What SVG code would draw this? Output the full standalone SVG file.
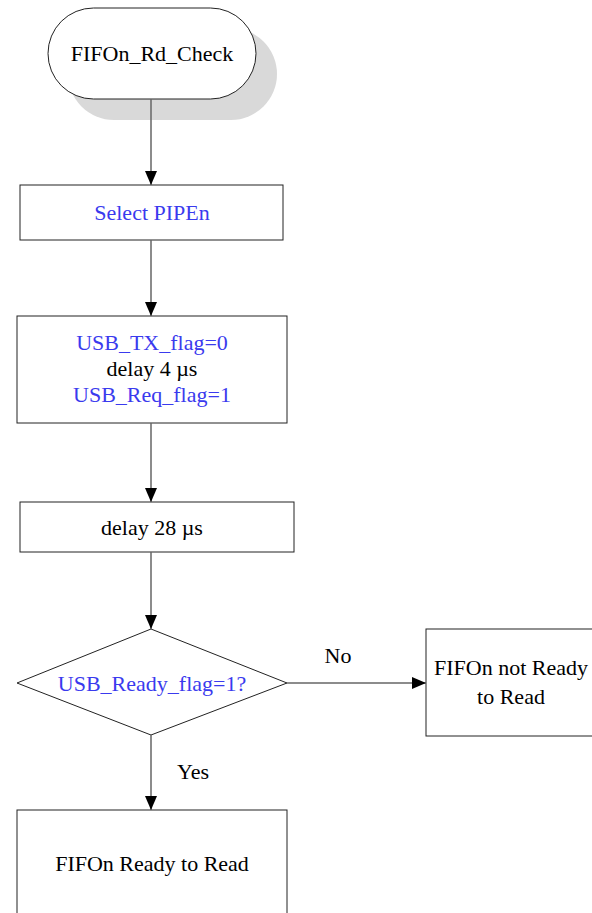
<svg xmlns="http://www.w3.org/2000/svg" width="592" height="913" viewBox="0 0 592 913">
<defs>
<marker id="arr" viewBox="0 0 14 12" refX="14" refY="6" markerWidth="14" markerHeight="12" markerUnits="userSpaceOnUse" orient="auto">
<path d="M0,0 L14,6 L0,12 Z" fill="#000"/>
</marker>
<style>
.box{fill:#fff;stroke:#222;stroke-width:1}
.t{font-family:"Liberation Serif","Times New Roman",serif;font-size:22px;fill:#000;text-anchor:middle}
.b{fill:#3a3aee}
.c{stroke:#666;stroke-width:1.5;fill:none;marker-end:url(#arr)}
</style>
</defs>
<g id="start">
<rect x="68" y="28" width="209" height="92" rx="46" fill="#d9d9d9"/>
<rect class="box" x="48" y="8" width="208" height="91" rx="45.5"/>
<text class="t" x="152" y="61">FIFOn_Rd_Check</text>
</g>
<g id="select">
<rect class="box" x="20" y="185" width="263" height="55"/>
<text class="t b" x="152" y="220">Select PIPEn</text>
</g>
<g id="flags">
<rect class="box" x="17" y="316" width="270" height="107"/>
<text class="t b" x="152" y="350">USB_TX_flag=0</text>
<text class="t" x="152" y="376">delay 4 µs</text>
<text class="t b" x="152" y="402">USB_Req_flag=1</text>
</g>
<g id="delay">
<rect class="box" x="20" y="502" width="274" height="50"/>
<text class="t" x="152" y="535">delay 28 µs</text>
</g>
<g id="decision">
<polygon class="box" points="151,629 287,683 151,735 17,683"/>
<text class="t b" x="152" y="691">USB_Ready_flag=1?</text>
</g>
<g id="notready">
<rect class="box" x="426" y="629" width="170" height="107"/>
<text class="t" x="511" y="675">FIFOn not Ready</text>
<text class="t" x="511" y="704">to Read</text>
</g>
<g id="ready">
<rect class="box" x="17" y="810" width="270" height="110"/>
<text class="t" x="152" y="871">FIFOn Ready to Read</text>
</g>
<g id="connectors">
<line class="c" x1="151" y1="99" x2="151" y2="185"/>
<line class="c" x1="151" y1="240" x2="151" y2="316"/>
<line class="c" x1="151" y1="423" x2="151" y2="502"/>
<line class="c" x1="151" y1="552" x2="151" y2="629"/>
<line class="c" x1="287" y1="683" x2="426" y2="683"/>
<line class="c" x1="151" y1="735" x2="151" y2="810"/>
<text class="t" x="338" y="663">No</text>
<text class="t" x="193" y="779">Yes</text>
</g>
</svg>
